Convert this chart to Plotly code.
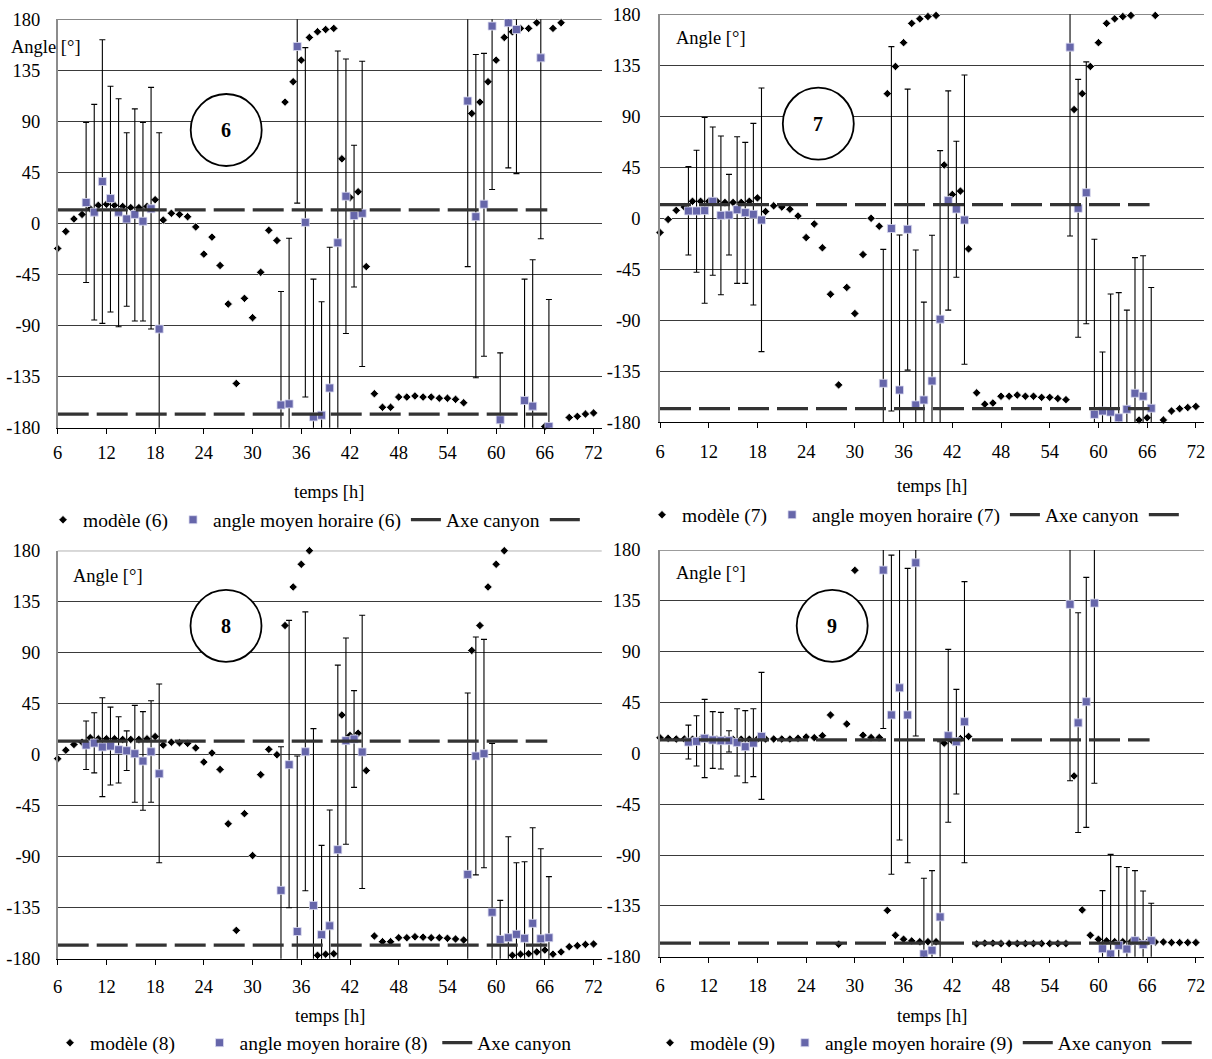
import plotly.graph_objects as go

# ---------------- data ----------------
hours = list(range(6, 73))
sq_hours = [9.5, 10.5, 11.5, 12.5, 13.5, 14.5, 15.5, 16.5, 17.5, 18.5,
            33.5, 34.5, 35.5, 36.5, 37.5, 38.5, 39.5, 40.5, 41.5, 42.5, 43.5,
            56.5, 57.5, 58.5, 59.5, 60.5, 61.5, 62.5, 63.5, 64.5, 65.5, 66.5]
x_ticks = [6, 12, 18, 24, 30, 36, 42, 48, 54, 60, 66, 72]
y_ticks = [-180, -135, -90, -45, 0, 45, 90, 135, 180]
y_tick_text = ["-180", "-135", "-90", "-45", "0", "45", "90", "135", "180"]

canyon_x = [6, 66.3]
canyon_axis = 12
canyon_opposite = -168

# station 6
model_6 = [-22, -7, 4, 8, 13, 16, 17, 16, 15, 14, 14, 15, 21, 3, 9, 8, 6, -3, -27, -12,
           -37, -71, -141, -66, -83, -43, -6, -15, 107, 125, 144, 164, 169, 171, 172, 57,
           23, 28, -38, -150, -162, -162, -153, -153, -152, -153, -153, -154, -154, -155,
           -158, 97, 107, 125, 144, 164, 169, 172, 172, 177, -179, 172, 177, -171, -170,
           -168, -167]
mean_6 = [18.5, 10, 37, 22, 10, 4, 8, 2, 13, -93,
          -160, -159, 156, 1, -170.5, -169, -145, -17, 24, 7, 9,
          108, 6, 17, 174, -173, 177, 171, -156, -161, 146, -179]
high_6 = [89, 105, 162, 121, 110, 80, 101, 89, 120, 80,
          -60, -13, 200, 155, -49, -69, -21, 152, 145, 69, 143,
          200, 149, 150, 200, -114, 200, 200, -49, -32, 200, -67]
low_6 = [-52, -85, -88, -78, -91, -73, -86, -86, -93, -200,
         -200, -200, 18, -153, -200, -200, -200, -200, -97, -56, -126,
         -38, -136, -117, 30, -200, 49, 44, -200, -200, -13.5, -200]

# station 7
model_7 = [-12.6, -1, 7, 10, 15, 15, 15, 15, 14, 14, 14, 15, 18, 6, 11, 10, 8, 2, -17, -5,
           -26, -67, -147, -61, -84, -32, 0, -7, 110, 134, 155, 172, 176, 178, 179, 47,
           21, 24, -27, -154, -164, -163, -157, -157, -156, -157, -157, -158, -158, -159,
           -160, 96, 110, 134, 155, 172, 176, 178, 179, -178, -176, 179, -178, -170, -168,
           -167, -166]
mean_7 = [6.5, 6.5, 6.8, 15, 2.6, 2.9, 7.6, 5, 3.5, -1.5,
          -145.6, -9, -151.5, -9.7, -164.7, -160.3, -143.5, -89, 15.6, 8.2, -1.5,
          151, 8.8, 22.6, -173, -170, -171, -176, -168.5, -154.4, -157, -167.6]
high_7 = [45.6, 60, 89, 80.6, 72.6, 38.8, 72, 67, 83.8, 115,
          -27.4, 151.5, -14.7, 114, -28, -74, -15, 59.7, 112.4, 68, 126.5,
          200, 122.6, 138, -18.5, -118, -66.8, -65.6, -81, -34.7, -33, -61]
low_7 = [-32.4, -47.6, -75, -50.3, -67.4, -32.4, -57.4, -57.4, -76.5, -117.6,
         -200, -170, -200, -134, -200, -200, -200, -200, -81, -52, -128.8,
         -15.6, -105, -93, -200, -200, -200, -200, -200, -200, -200, -200]

# station 8
model_8 = [-3.5, 4, 9, 11, 15, 14, 14, 14, 13.5, 13.5, 13.5, 14, 16, 8.5, 11, 10.5, 10, 6,
           -6.5, 1.5, -13, -61, -155, -52, -89, -17.6, 4.7, 0, 114, 148, 168, 180, -177,
           -176, -175.6, 35, 17, 19, -14, -160, -165, -165, -161.5, -161.5, -160.6, -161,
           -161.5, -161.5, -162, -162.6, -163.5, 92, 114, 148, 168, 180, -177, -176,
           -175.6, -174, -172.4, -176, -174, -169.4, -168.5, -167.4, -167]
mean_8 = [8.5, 10.3, 6.8, 7.6, 4.4, 3.5, 0.9, -5.6, 2.6, -16.8,
          -119.7, -8.8, -156, 2.6, -133, -158.8, -151, -83.8, 12.4, 13.8, 2.4,
          -105.6, -1.2, 0.9, -139, -163, -161.5, -158.5, -162, -148.8, -162.4, -161.5]
high_8 = [29.7, 37, 50.3, 42, 33.5, 21, 43.5, 38, 47.6, 62.4,
          7, 118.5, -1.2, 126, 23, -80, -48.8, 79, 103, 56.5, 123,
          54.4, 103.8, 101.8, 10, -128.5, -72.4, -95.3, -94.4, -64.4, -83, -107.6]
low_8 = [-13, -16, -37, -26.8, -25, -14, -42, -49, -42, -95.3,
         -200, -135, -200, -120, -200, -200, -200, -200, -79, -28.8, -118,
         -200, -106, -99.7, -200, -200, -200, -200, -200, -200, -200, -200]

# station 9
model_9 = [13.8, 13.3, 12.7, 12.7, 12.5, 12.5, 12.5, 12.5, 12.5, 12.5, 12.5, 12.5, 12.7,
           12.7, 12.7, 12.7, 12.7, 13.3, 14.5, 13.9, 15.6, 34, -169, 26, 162, 16, 14, 14,
           -139, -161, -164.5, -166, -166.7, -166.7, -166.7, 9, 11, 13, 15, -168.7, -168,
           -168, -168.4, -168.4, -168.4, -168.4, -168.4, -168.4, -168.4, -168.4, -168.4,
           -20, -138.6, -161, -164.6, -166, -166.7, -166.7, -166.7, -166.7, -167, -167,
           -167, -167.5, -167.5, -167.5, -167.5]
mean_9 = [10, 10.6, 13.3, 11.8, 11.2, 11.2, 9.7, 5.9, 9.1, 15,
          162.2, 34, 58, 34, 168.7, -177.6, -174.3, -144.8, 15.6, 10.3, 28,
          131.9, 27, 45.7, 133, -172.9, -177.6, -170, -173.2, -165.8, -169.3, -165.8]
high_9 = [25, 33.3, 47.8, 36.9, 36.3, 20, 39.5, 37.8, 39.5, 71.7,
          200, 175.5, 200, 163.7, 200, -110.6, -103.8, 10.3, 92, 56.6, 152,
          200, 124.5, 155.8, 200, -121.5, -89.4, -100.3, -101, -103.8, -121.8, -132.7]
low_9 = [-5, -11.2, -21.5, -13.3, -13.9, 1.2, -20, -26, -20.6, -40.7,
         22, -107, -76.7, -96.8, 15.3, -200, -200, -200, -61, -36, -96.8,
         -24.2, -70, -65.5, -26.5, -200, -200, -200, -200, -200, -200, -200]

stations = ["6", "7", "8", "9"]
models = [model_6, model_7, model_8, model_9]
means = [mean_6, mean_7, mean_8, mean_9]
highs = [high_6, high_7, high_8, high_9]
lows = [low_6, low_7, low_8, low_9]

# ---------------- layout geometry (pixels) ----------------
W, H = 1212, 1059
areas = [(57.7, 601.7, 19.3, 427.7), (660, 1204, 14.3, 422.3),
         (57.7, 601.7, 550.7, 958.7), (660, 1204, 550, 956.7)]
xlabel_standoff = [3, 7, 6, 7]
ylabel_standoff = [12, 14, 12, 14]
legend_pos = [(43, 520), (642, 515), (50, 1043), (650, 1043)]
# extra non-breaking spaces after legend labels (legend spacing of the original)
legend_pad = [(0, 0), (0, 0), (4, 1), (1, 0)]
show_second_canyon_entry = [True, True, False, True]
angle_label_pos = [(46, 46.5), (711, 37.5), (108, 575.8), (711, 572.5)]
circle_centers = [(226.2, 130), (818.3, 123.7), (226, 625.8), (832.2, 625.8)]
xtitle_pos = [(329, 492), (932, 486), (330, 1016), (932, 1016)]

FONT = "Liberation Serif, Times New Roman, serif"
FS = 18.5
LEG_FS = 19.5
SQ_COLOR = "#6666AA"
NB = "\u00a0"

fig = go.Figure()
layout = dict(width=W, height=H, margin=dict(l=0, r=0, t=0, b=0, autoexpand=False),
              autosize=False, paper_bgcolor="white", plot_bgcolor="white",
              font=dict(family=FONT, size=FS, color="black"))
annotations = []
shapes = []

for i in range(4):
    k = i + 1
    xa = "x" if k == 1 else f"x{k}"
    ya = "y" if k == 1 else f"y{k}"
    lg = "legend" if k == 1 else f"legend{k}"
    st = stations[i]
    hi = [h - m for h, m in zip(highs[i], means[i])]
    lo = [m - l for m, l in zip(means[i], lows[i])]
    p1, p2 = legend_pad[i]

    fig.add_trace(go.Scatter(
        x=hours, y=models[i], mode="markers", name=f"modèle ({st})" + NB * p1,
        marker=dict(symbol="diamond", size=6.5, color="black",
                    line=dict(color="white", width=0.8)),
        xaxis=xa, yaxis=ya, legend=lg, cliponaxis=False))
    fig.add_trace(go.Scatter(
        x=sq_hours, y=means[i], mode="markers",
        name=f"angle moyen horaire ({st})" + NB * p2,
        marker=dict(symbol="square", size=8, color=SQ_COLOR,
                    line=dict(color="#DCDCF0", width=0.8)),
        error_y=dict(type="data", symmetric=False, array=hi, arrayminus=lo,
                     color="black", thickness=1.1, width=3),
        xaxis=xa, yaxis=ya, legend=lg))
    fig.add_trace(go.Scatter(
        x=canyon_x, y=[canyon_axis, canyon_axis], mode="lines", name="Axe canyon",
        line=dict(color="#333333", width=3.2, dash="31px,8px"),
        xaxis=xa, yaxis=ya, legend=lg))
    fig.add_trace(go.Scatter(
        x=canyon_x, y=[canyon_opposite, canyon_opposite], mode="lines", name=" ",
        line=dict(color="#333333", width=3.2, dash="31px,8px"),
        xaxis=xa, yaxis=ya, legend=lg, showlegend=show_second_canyon_entry[i]))

    x0, x1, yt, yb = areas[i]
    layout["xaxis" if k == 1 else f"xaxis{k}"] = dict(
        domain=[x0 / W, x1 / W], range=[6, 73], anchor=ya,
        tickvals=x_ticks, ticks="outside", ticklen=5, tickwidth=1, tickcolor="black",
        showline=True, linecolor="black", linewidth=1, showgrid=False, zeroline=False,
        tickfont=dict(family=FONT, size=FS), ticklabelstandoff=xlabel_standoff[i])
    layout["yaxis" if k == 1 else f"yaxis{k}"] = dict(
        domain=[1 - yb / H, 1 - yt / H], range=[-180, 180], anchor=xa,
        tickvals=y_ticks, ticktext=y_tick_text, ticks="",
        showgrid=True, gridcolor="#3a3a3a", gridwidth=1, zeroline=False,
        showline=True, linecolor="#8c8c8c", linewidth=1.5,
        tickfont=dict(family=FONT, size=FS), ticklabelstandoff=ylabel_standoff[i])
    # top grid line at 180 (upper border of the plot area)
    shapes.append(dict(type="line", xref=f"{xa} domain", yref=ya, x0=0, x1=1,
                       y0=y_ticks[-1], y1=y_ticks[-1], layer="below",
                       line=dict(color="#3a3a3a", width=1)))
    lx, ly = legend_pos[i]
    layout[lg] = dict(orientation="h", x=lx / W, y=1 - ly / H, xanchor="left",
                      yanchor="middle", bgcolor="rgba(0,0,0,0)",
                      font=dict(family=FONT, size=LEG_FS, color="black"),
                      itemclick=False, itemdoubleclick=False)

    ax_, ay_ = angle_label_pos[i]
    annotations.append(dict(text="Angle [°]", x=ax_ / W, y=1 - ay_ / H, xref="paper",
                            yref="paper", showarrow=False, xanchor="center",
                            yanchor="middle", font=dict(family=FONT, size=FS)))
    tx, ty = xtitle_pos[i]
    annotations.append(dict(text="temps [h]", x=tx / W, y=1 - ty / H, xref="paper",
                            yref="paper", showarrow=False, xanchor="center",
                            yanchor="middle", font=dict(family=FONT, size=FS)))
    cx, cy = circle_centers[i]
    shapes.append(dict(type="circle", xref="paper", yref="paper",
                       x0=(cx - 35.5) / W, x1=(cx + 35.5) / W,
                       y0=1 - (cy + 36) / H, y1=1 - (cy - 36) / H,
                       line=dict(color="black", width=1.8), fillcolor="white",
                       layer="above"))
    annotations.append(dict(text=f"<b>{st}</b>", x=cx / W, y=1 - cy / H, xref="paper",
                            yref="paper", showarrow=False, xanchor="center",
                            yanchor="middle", font=dict(family=FONT, size=20)))

layout["annotations"] = annotations
layout["shapes"] = shapes
fig.update_layout(**layout)

fig.write_html("out.html", config={"displayModeBar": False},
               post_script="document.body.style.margin='0';")
